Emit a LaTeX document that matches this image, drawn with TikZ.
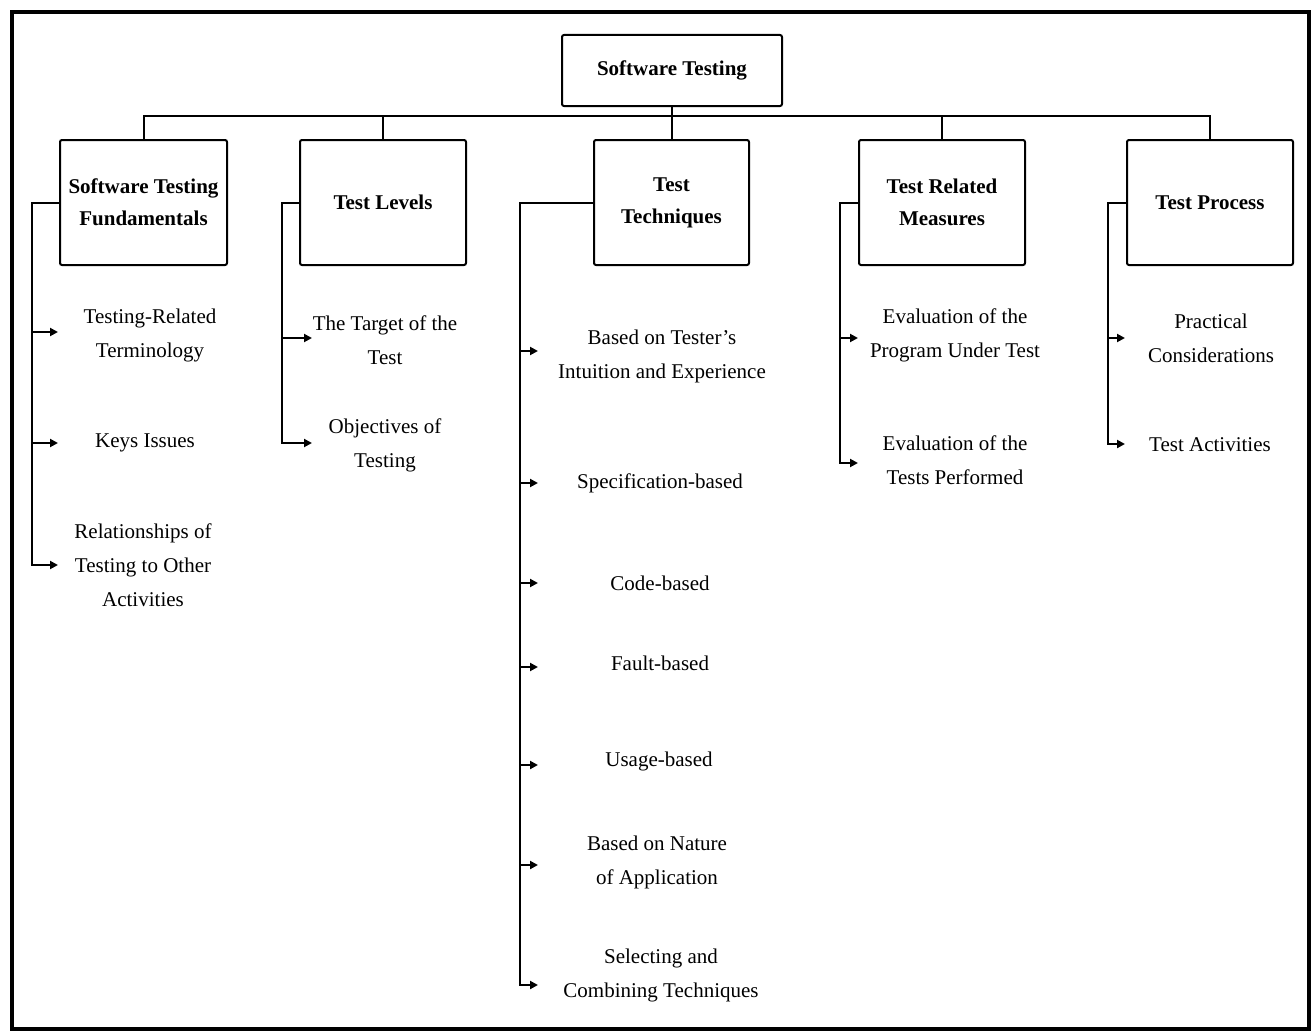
\documentclass[tikz,border=0pt]{standalone}
\usepackage{fontspec}
\setmainfont{Liberation Serif}
\usetikzlibrary{arrows.meta}
\begin{document}
\begin{tikzpicture}[x=1pt,y=-1pt,
  box/.style={draw,line width=2pt,rounded corners=2pt,minimum width=166pt,minimum height=125pt,align=center,font=\fontsize{21}{32}\selectfont\bfseries,inner sep=0pt},
  leaf/.style={align=center,font=\fontsize{21}{34}\selectfont,inner sep=0pt},
  conn/.style={line width=2pt},
  arr/.style={line width=2pt,-{Triangle[length=8pt,width=8pt]}}]
\useasboundingbox (0,0) rectangle (1315,1033);
\draw[line width=4pt] (12,12) rectangle (1309,1029);
% root and boxes
\node[box,minimum width=220pt,minimum height=71pt] (root) at (672,70.5) {Software Testing};
\node[box,minimum width=167pt] (b1) at (143.5,202.5) {Software Testing\\Fundamentals};
\node[box] (b2) at (383,202.5) {Test Levels};
\node[box,minimum width=155pt] (b3) at (671.5,202.5) {Test\\Techniques};
\node[box] (b4) at (942,202.5) {Test Related\\Measures};
\node[box] (b5) at (1210,202.5) {Test Process};
% bus
\coordinate (bus) at (672,116);
\draw[conn] (root.south) -- (bus);
\draw[conn] (b1.north) |- (bus) -| (b5.north);
\draw[conn] (b2.north) -- (b2.north |- bus);
\draw[conn] (b3.north) -- (b3.north |- bus);
\draw[conn] (b4.north) -- (b4.north |- bus);
% spine coordinates
\coordinate (s1) at (32,202.5);
\coordinate (s2) at (282,202.5);
\coordinate (s3) at (520,202.5);
\coordinate (s4) at (840,202.5);
\coordinate (s5) at (1108,202.5);
% arrow end coordinates
\coordinate (a11) at (58,332);
\coordinate (a12) at (58,443);
\coordinate (a13) at (58,565);
\coordinate (a21) at (312,338);
\coordinate (a22) at (312,443);
\coordinate (a31) at (538,351);
\coordinate (a32) at (538,483);
\coordinate (a33) at (538,583);
\coordinate (a34) at (538,667);
\coordinate (a35) at (538,765);
\coordinate (a36) at (538,865);
\coordinate (a37) at (538,985);
\coordinate (a41) at (858,338);
\coordinate (a42) at (858,463);
\coordinate (a51) at (1125,338);
\coordinate (a52) at (1125,444);
% leaves
\node[leaf] (l11) at (150,335) {Testing-Related\\Terminology};
\node[leaf] (l12) at (145,443) {Keys Issues};
\node[leaf] (l13) at (143,565) {Relationships of\\Testing to Other\\Activities};
\node[leaf] (l21) at (385,340) {The Target of the\\Test};
\node[leaf] (l22) at (385,445) {Objectives of\\Testing};
\node[leaf] (l31) at (662,356) {Based on Tester's\\Intuition and Experience};
\node[leaf] (l32) at (660,483) {Specification-based};
\node[leaf] (l33) at (660,583) {Code-based};
\node[leaf] (l34) at (660,663) {Fault-based};
\node[leaf] (l35) at (659,761) {Usage-based};
\node[leaf] (l36) at (657,862) {Based on Nature\\of Application};
\node[leaf] (l37) at (661,975) {Selecting and\\Combining Techniques};
\node[leaf] (l41) at (955,335) {Evaluation of the\\Program Under Test};
\node[leaf] (l42) at (955,460) {Evaluation of the\\Tests Performed};
\node[leaf] (l51) at (1211,338) {Practical\\Considerations};
\node[leaf] (l52) at (1210,445) {Test Activities};
% spines with last arrows
\draw[arr] (b1.west) -- (s1) |- (a13);
\draw[arr] (b2.west) -- (s2) |- (a22);
\draw[arr] (b3.west) -- (s3) |- (a37);
\draw[arr] (b4.west) -- (s4) |- (a42);
\draw[arr] (b5.west) -- (s5) |- (a52);
% other arrows
\draw[arr] (s1 |- a11) -- (a11);
\draw[arr] (s1 |- a12) -- (a12);
\draw[arr] (s2 |- a21) -- (a21);
\draw[arr] (s3 |- a31) -- (a31);
\draw[arr] (s3 |- a32) -- (a32);
\draw[arr] (s3 |- a33) -- (a33);
\draw[arr] (s3 |- a34) -- (a34);
\draw[arr] (s3 |- a35) -- (a35);
\draw[arr] (s3 |- a36) -- (a36);
\draw[arr] (s4 |- a41) -- (a41);
\draw[arr] (s5 |- a51) -- (a51);
\end{tikzpicture}
\end{document}
